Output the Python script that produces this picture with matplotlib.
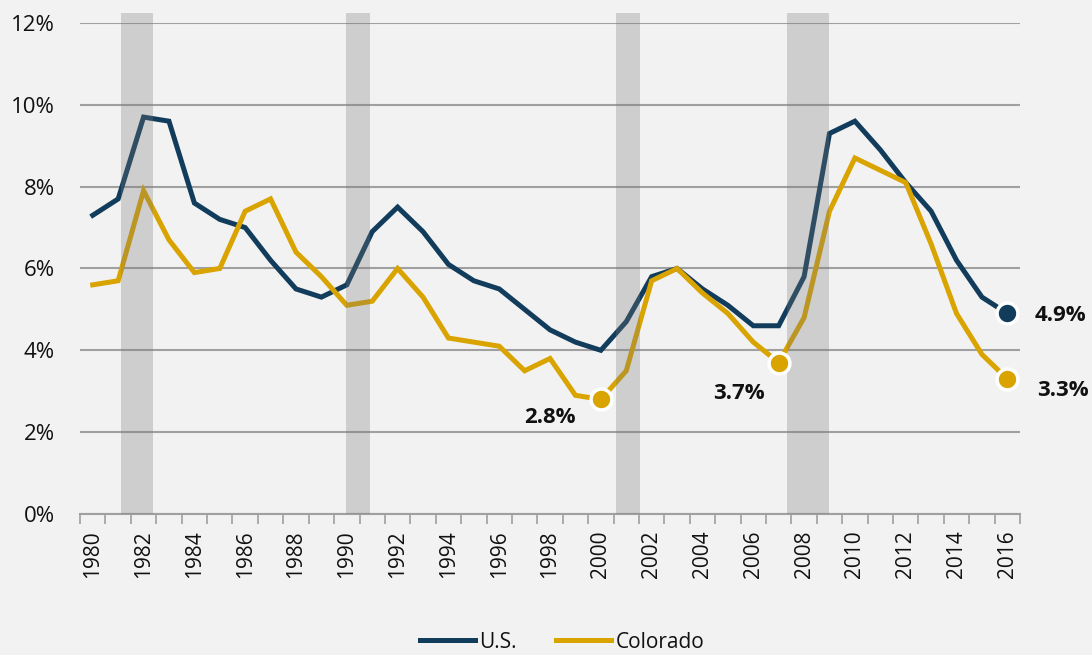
import matplotlib
matplotlib.use('Agg')
import matplotlib.pyplot as plt
import numpy as np

plt.rcParams['font.family'] = ['Open Sans', 'DejaVu Sans']

years = list(range(1980, 2017))
us = [7.3, 7.7, 9.7, 9.6, 7.6, 7.2, 7.0, 6.2, 5.5, 5.3, 5.6, 6.9, 7.5, 6.9, 6.1, 5.7,
      5.5, 5.0, 4.5, 4.2, 4.0, 4.7, 5.8, 6.0, 5.5, 5.1, 4.6, 4.6, 5.8, 9.3, 9.6, 8.9,
      8.1, 7.4, 6.2, 5.3, 4.9]
colorado = [5.6, 5.7, 7.9, 6.7, 5.9, 6.0, 7.4, 7.7, 6.4, 5.8, 5.1, 5.2, 6.0, 5.3, 4.3,
            4.2, 4.1, 3.5, 3.8, 2.9, 2.8, 3.5, 5.7, 6.0, 5.4, 4.9, 4.2, 3.7, 4.8, 7.4,
            8.7, 8.4, 8.1, 6.6, 4.9, 3.9, 3.3]
# recession periods (fractional years)
recessions = [(1981.11, 1982.36), (1989.97, 1990.92), (2000.6, 2001.55), (2007.33, 2009.0)]

US_COL = '#123c5b'
CO_COL = '#d9a300'
BG = '#f2f2f2'

fig = plt.figure(figsize=(10.92, 6.55), dpi=100, facecolor=BG)
ax = fig.add_axes([0.0733, 0.2153, 0.8608, 0.7496], facecolor=BG)

x = np.arange(len(years))
ax.plot(x, us, color=US_COL, lw=3.6, solid_joinstyle='miter', label='U.S.', zorder=3)
ax.plot(x, colorado, color=CO_COL, lw=3.6, solid_joinstyle='miter', label='Colorado', zorder=3)

# recession shading on top of the lines
for a, b in recessions:
    ax.add_patch(plt.Rectangle((a - years[0], 0), b - a, 12.25, facecolor='#777777',
                               alpha=0.29, lw=0, zorder=4, clip_on=False))

# highlighted points
highlights = [(2000, colorado, CO_COL, '2.8%', (-18, -13), 'right'),
              (2007, colorado, CO_COL, '3.7%', (-10, -22), 'right'),
              (2016, us, US_COL, '4.9%', (20, -1.5), 'left'),
              (2016, colorado, CO_COL, '3.3%', (21.5, -8), 'left')]
for yr, series, col, txt, off, ha in highlights:
    i = years.index(yr)
    ax.plot(x[i], series[i], 'o', ms=15, color=col, mec='white', mew=2.5, zorder=6,
            clip_on=False)
    ax.annotate(txt, (x[i], series[i]), textcoords='offset points', xytext=off,
                ha=ha, va='center', fontsize=16, fontweight='bold', color='#111111',
                annotation_clip=False)

ax.set_xlim(-0.5, len(years) - 0.5)
ax.set_ylim(0, 12)
ax.set_yticks(range(0, 13, 2))
ax.set_yticklabels([f'{v}%' for v in range(0, 13, 2)], fontsize=16, color='#111111')
ax.yaxis.grid(True, color='#a0a0a0', lw=1.5, zorder=1)
ax.set_axisbelow(True)
ax.tick_params(axis='y', length=0, pad=18)

ax.set_xticks(x[::2])
ax.set_xticklabels([str(y) for y in years[::2]], rotation=90, fontsize=15, color='#111111')
ax.set_xticks(np.arange(-0.5, len(years)), minor=True)
ax.tick_params(axis='x', which='major', length=0, pad=12)
ax.tick_params(axis='x', which='minor', length=7, color='#a0a0a0', width=1.2)

for s in ['top', 'right', 'left']:
    ax.spines[s].set_visible(False)
ax.spines['bottom'].set_color('#a0a0a0')
ax.spines['bottom'].set_linewidth(1.5)

leg = ax.legend(loc='center', bbox_to_anchor=(0.513, -0.261), ncol=2, frameon=False,
                fontsize=15, handlelength=2.64, handletextpad=0.2, columnspacing=1.9,
                borderpad=0.2)
for t in leg.get_texts():
    t.set_color('#111111')

fig.savefig('out.png', dpi=100, facecolor=BG)
